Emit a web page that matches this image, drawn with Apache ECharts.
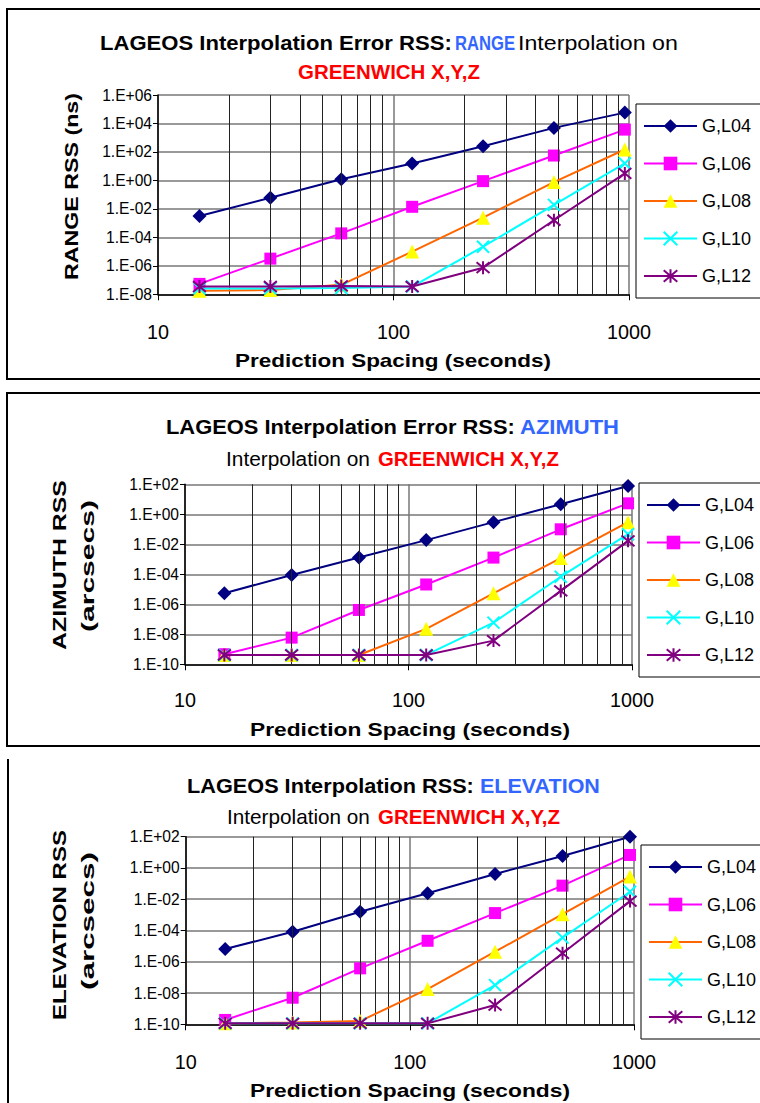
<!DOCTYPE html>
<html><head><meta charset="utf-8">
<script src="https://cdn.jsdelivr.net/npm/echarts@6/dist/echarts.min.js"></script>
<style>html,body{margin:0;padding:0;background:#fff}#c{width:760px;height:1103px}</style>
</head><body><div id="c"></div>
<script>
// ---------------- DATA ----------------
const spacing = [15, 30, 60, 120, 240, 480, 960];           // prediction spacing (s)
const seriesNames = ['G,L04', 'G,L06', 'G,L08', 'G,L10', 'G,L12'];
const minorX = [20, 30, 40, 50, 60, 70, 80, 90, 200, 300, 400, 500, 600, 700, 800, 900];

// RANGE RSS (ns)
const rangeL04 = [3.2e-3, 6.0e-2, 1.2, 15.5, 250, 4.9e3, 5.8e4];
const rangeL06 = [5.4e-8, 3.2e-6, 1.9e-4, 1.4e-2, 0.89, 56, 3.7e3];
const rangeL08 = [1.8e-8, 2.0e-8, 4.6e-8, 1.0e-5, 2.4e-3, 0.76, 148];
const rangeL10 = [2.6e-8, 2.6e-8, 2.8e-8, 3.5e-8, 2.2e-5, 1.9e-2, 15.5];
const rangeL12 = [3.5e-8, 3.5e-8, 3.9e-8, 3.5e-8, 7.4e-7, 1.6e-3, 3.1];

// AZIMUTH RSS (arcsecs)
const azL04 = [5.4e-6, 9.1e-5, 1.3e-3, 1.9e-2, 0.30, 4.7, 78];
const azL06 = [4.7e-10, 6.0e-9, 4.2e-7, 2.1e-5, 1.3e-3, 0.10, 5.4];
const azL08 = [4.2e-10, 4.2e-10, 4.2e-10, 2.3e-8, 5.4e-6, 1.2e-3, 0.30];
const azL10 = [4.2e-10, 4.2e-10, 4.2e-10, 4.2e-10, 6.0e-8, 6.9e-5, 4.7e-2];
const azL12 = [4.2e-10, 4.2e-10, 4.2e-10, 4.2e-10, 3.8e-9, 7.8e-6, 1.7e-2];

// ELEVATION RSS (arcsecs)
const elL04 = [6.5e-6, 8.3e-5, 1.6e-3, 2.4e-2, 0.41, 5.8, 100];
const elL06 = [1.9e-10, 5.0e-9, 3.8e-7, 2.2e-5, 1.3e-3, 7.4e-2, 6.8];
const elL08 = [1.15e-10, 1.3e-10, 1.6e-10, 1.8e-8, 4.4e-6, 1.1e-3, 0.28];
const elL10 = [1.15e-10, 1.15e-10, 1.15e-10, 1.15e-10, 3.2e-8, 3.5e-5, 3.0e-2];
const elL12 = [1.15e-10, 1.15e-10, 1.15e-10, 1.15e-10, 1.7e-9, 3.5e-6, 7.6e-3];

// tick labels (top to bottom)
const rangeTicks = ['1.E+06', '1.E+04', '1.E+02', '1.E+00', '1.E-02', '1.E-04', '1.E-06', '1.E-08'];
const angleTicks = ['1.E+02', '1.E+00', '1.E-02', '1.E-04', '1.E-06', '1.E-08', '1.E-10'];
const xTicks = { 10: '10', 100: '100', 1000: '1000' };

// ---------------- STYLE ----------------
const FAM = '"Liberation Sans", Arial, Helvetica, sans-serif';
const NARROW = '"Liberation Sans Narrow", "Arial Narrow", ' + FAM;
const BLUE = '#3366FF', RED = '#FF0000';
const styles = [
  { line: '#000080', fill: '#000080', symbol: 'diamond', size: 14 },
  { line: '#FF00FF', fill: '#FF00FF', symbol: 'rect', size: 12 },
  { line: '#FF6600', fill: '#FFFF00', symbol: 'triangle', size: 14 },
  { line: '#00FFFF', fill: '#00FFFF', symbol: 'path://M0,0L10,10M10,0L0,10', size: 12, stroke: true },
  { line: '#800080', fill: '#800080', symbol: 'path://M0,1L10,11M10,1L0,11M5,0L5,12', size: 13, stroke: true }
];

const panels = [
  { grid: { left: 158, top: 95, width: 471, height: 199.3 }, ymin: 1e-8, ymax: 1e6, ticks: rangeTicks,
    data: [rangeL04, rangeL06, rangeL08, rangeL10, rangeL12], labelMargin: 28,
    legend: { left: 636, top: 104 } },
  { grid: { left: 185, top: 484.3, width: 447, height: 180 }, ymin: 1e-10, ymax: 1e2, ticks: angleTicks,
    data: [azL04, azL06, azL08, azL10, azL12], labelMargin: 26,
    legend: { left: 639, top: 483 } },
  { grid: { left: 185.7, top: 836.7, width: 448.3, height: 187.6 }, ymin: 1e-10, ymax: 1e2, ticks: angleTicks,
    data: [elL04, elL06, elL08, elL10, elL12], labelMargin: 28,
    legend: { left: 641, top: 845 } }
];

// ---------------- TEXT HELPERS ----------------
const mctx = document.createElement('canvas').getContext('2d');
function tw(text, font) { mctx.font = font; return mctx.measureText(text).width; }
// font size giving a target width for a sample string
function fitSize(sample, fam, target) { return Math.round(16 * target / tw(sample, '16px ' + fam) * 10) / 10; }
const yLabelSize = fitSize('1.E+06', NARROW, 50);
const xLabelSize = fitSize('100', NARROW, 33);
const legendSize = fitSize('G,L04', FAM, 49);

function hText(text, x1, x2, yc, size, bold, color) {
  const font = (bold ? 'bold ' : '') + size + 'px ' + FAM;
  return { type: 'text', x: x1, y: yc, scaleX: (x2 - x1) / tw(text, font), silent: true,
    style: { text: text, font: font, fill: color || '#000', textAlign: 'left', textVerticalAlign: 'middle', verticalAlign: 'middle' } };
}
function vText(text, xc, yBottom, yTop, size, bold, color) {
  const font = (bold ? 'bold ' : '') + size + 'px ' + FAM;
  return { type: 'text', x: xc, y: yBottom, rotation: Math.PI / 2, scaleX: (yBottom - yTop) / tw(text, font), silent: true,
    style: { text: text, font: font, fill: color || '#000', textAlign: 'left', textVerticalAlign: 'middle', verticalAlign: 'middle' } };
}

const graphics = [
  { type: 'rect', shape: { x: 7, y: 9, width: 800, height: 370 }, style: { fill: 'none', stroke: '#000', lineWidth: 2 }, silent: true },
  { type: 'rect', shape: { x: 7, y: 393, width: 800, height: 353 }, style: { fill: 'none', stroke: '#000', lineWidth: 2 }, silent: true },
  { type: 'line', shape: { x1: 8, y1: 759, x2: 8, y2: 1110 }, style: { stroke: '#000', lineWidth: 2 }, silent: true },
  // panel 1
  hText('LAGEOS Interpolation Error RSS:', 100, 452, 43, 20, true),
  hText('RANGE', 455, 515, 43, 20, true, BLUE),
  hText('Interpolation on', 518, 678, 43, 20, false),
  hText('GREENWICH X,Y,Z', 298, 480, 72, 20, true, RED),
  vText('RANGE RSS (ns)', 72, 280, 93, 18, true),
  hText('Prediction Spacing (seconds)', 235, 551, 361, 18, true),
  // panel 2
  hText('LAGEOS Interpolation Error RSS:', 166, 515, 427, 20, true),
  hText('AZIMUTH', 520, 619, 427, 20, true, BLUE),
  hText('Interpolation on', 226, 370, 459, 20, false),
  hText('GREENWICH X,Y,Z', 378, 559, 459, 20, true, RED),
  vText('AZIMUTH RSS', 60, 650, 480, 18, true),
  vText('(arcsecs)', 88, 632, 500, 18, true),
  hText('Prediction Spacing (seconds)', 250, 570, 729, 18, true),
  // panel 3
  hText('LAGEOS Interpolation RSS:', 187, 474, 786, 20, true),
  hText('ELEVATION', 480, 600, 786, 20, true, BLUE),
  hText('Interpolation on', 227, 370, 817, 20, false),
  hText('GREENWICH X,Y,Z', 378, 560, 817, 20, true, RED),
  vText('ELEVATION RSS', 60, 1020, 830, 18, true),
  vText('(arcsecs)', 88, 990, 852, 18, true),
  hText('Prediction Spacing (seconds)', 250, 570, 1090, 18, true)
];

// ---------------- OPTION ----------------
const grids = [], xAxes = [], yAxes = [], series = [], legends = [];
panels.forEach((p, pi) => {
  grids.push(Object.assign({ containLabel: false, show: false }, p.grid));
  xAxes.push({
    type: 'log', logBase: 10, min: 10, max: 1000, gridIndex: pi,
    axisLine: { show: true, lineStyle: { color: '#000', width: 1.5 } },
    axisTick: { show: true, inside: false, length: 6, lineStyle: { color: '#000', width: 1 } },
    axisLabel: { margin: p.labelMargin, fontSize: xLabelSize, color: '#000', fontFamily: NARROW,
      formatter: v => xTicks[Math.round(v)] || String(Math.round(v)) },
    splitLine: { show: true, lineStyle: { color: '#777', width: 1.5 } },
    minorTick: { show: false }, minorSplitLine: { show: false }
  });
  const topExp = Math.round(Math.log10(p.ymax));
  yAxes.push({
    type: 'log', logBase: 10, min: p.ymin, max: p.ymax, interval: 2, gridIndex: pi,
    axisLine: { show: true, lineStyle: { color: '#000', width: 1.5 } },
    axisTick: { show: true, inside: false, length: 5, lineStyle: { color: '#000', width: 1 } },
    axisLabel: { margin: 6, fontSize: yLabelSize, color: '#000', fontFamily: NARROW,
      formatter: v => p.ticks[Math.round((topExp - Math.log10(v)) / 2)] },
    splitLine: { show: true, lineStyle: { color: '#777', width: 1.5 } }
  });
  // minor vertical grid lines, placed through the x axis scale
  series.push({
    type: 'line', name: 'minor-grid-' + pi, xAxisIndex: pi, yAxisIndex: pi, data: [], silent: true, z: 1,
    markLine: { silent: true, symbol: ['none', 'none'], label: { show: false }, animation: false,
      lineStyle: { color: '#222', width: 1, type: 'solid' },
      data: minorX.map(v => ({ xAxis: v })) }
  });
  seriesNames.forEach((name, si) => {
    const st = styles[si];
    series.push({
      type: 'line', name: name, xAxisIndex: pi, yAxisIndex: pi, z: 3 + si,
      data: spacing.map((x, j) => [x, p.data[si][j]]),
      symbol: st.symbol, symbolSize: st.size, showAllSymbol: true,
      lineStyle: { color: st.line, width: 2 },
      itemStyle: st.stroke ? { color: st.fill, borderColor: st.fill, borderWidth: 2 } : { color: st.fill, borderWidth: 0 },
      emphasis: { disabled: true }
    });
  });
  legends.push({
    data: seriesNames, orient: 'vertical', left: p.legend.left, top: p.legend.top,
    padding: [13, 40, 13, 7], itemWidth: 53, itemHeight: 17, itemGap: 19.5,
    borderColor: '#000', borderWidth: 1, backgroundColor: '#fff', selectedMode: false,
    textStyle: { fontSize: legendSize, color: '#000', fontFamily: FAM }
  });
});

const chart = echarts.init(document.getElementById('c'), null, { renderer: 'svg' });
chart.setOption({
  animation: false,
  backgroundColor: '#fff',
  grid: grids, xAxis: xAxes, yAxis: yAxes, series: series, legend: legends,
  graphic: graphics
});
</script></body></html>
